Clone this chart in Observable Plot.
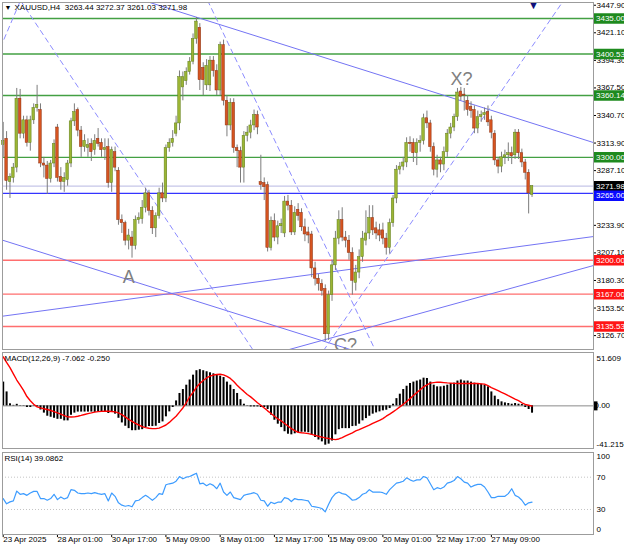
<!DOCTYPE html>
<html><head><meta charset="utf-8">
<script src="https://cdn.jsdelivr.net/npm/d3@7"></script>
<script src="https://cdn.jsdelivr.net/npm/@observablehq/plot@0.6"></script>
<style>
 html,body{margin:0;padding:0;background:#fff}
 #chart{position:relative;width:624px;height:544px;overflow:hidden;background:#fff}
 #chart > svg{position:absolute;left:0;display:block}
</style></head><body><div id="chart"></div>
<script>
// ---------- data (XAUUSD H4) ----------
const open = [3312,3318,3276,3280,3290,3357,3323,3336,3314,3336,
 3348,3346,3294,3292,3279,3294,3329,3281,3276,3278,
 3294,3335,3346,3326,3310,3309,3313,3307,3318,3314,
 3307,3310,3275,3305,3287,3239,3236,3219,3222,3214,
 3239,3240,3251,3265,3248,3231,3243,3265,3260,3309,
 3314,3323,3333,3368,3374,3383,3393,3415,3426,3387,
 3370,3370,3394,3384,3365,3409,3355,3331,3353,3309,
 3306,3290,3321,3324,3331,3341,3276,3275,3273,3212,
 3238,3222,3233,3226,3257,3253,3227,3249,3246,3232,
 3227,3225,3192,3182,3177,3172,3128,3166,3195,3221,
 3239,3222,3219,3207,3178,3188,3203,3219,3226,3241,
 3231,3229,3229,3221,3212,3236,3260,3288,3291,3295,
 3314,3314,3304,3314,3316,3338,3333,3310,3288,3297,
 3293,3305,3323,3329,3339,3364,3361,3355,3349,3346,
 3328,3339,3341,3344,3336,3323,3297,3291,3300,3302,
 3304,3302,3324,3304,3295,3285,3263.44];
const high = [3334,3325,3284,3294,3367,3366,3340,3340,3340,3352,
 3370,3352,3300,3296,3297,3317,3332,3290,3285,3297,
 3338,3352,3348,3330,3322,3318,3318,3322,3328,3318,
 3318,3318,3310,3310,3290,3244,3238,3230,3228,3243,
 3246,3258,3270,3268,3252,3246,3270,3275,3312,3318,
 3326,3340,3384,3383,3387,3397,3420,3436,3430,3392,
 3395,3398,3398,3390,3412,3414,3360,3357,3357,3312,
 3310,3325,3330,3336,3346,3345,3302,3280,3276,3242,
 3245,3238,3240,3262,3263,3258,3252,3255,3250,3240,
 3232,3228,3198,3186,3181,3176,3170,3200,3228,3248,
 3251,3228,3224,3212,3195,3210,3228,3248,3253,3253,
 3237,3235,3236,3226,3240,3263,3292,3295,3300,3319,
 3320,3318,3318,3321,3342,3345,3336,3314,3302,3300,
 3310,3327,3333,3342,3367,3368,3367,3360,3354,3350,
 3345,3345,3348,3350,3340,3326,3300,3305,3307,3314,
 3310,3327,3327,3308,3298,3288,3272.37];
const low = [3300,3268,3260,3275,3285,3318,3318,3310,3306,3332,
 3344,3290,3280,3264,3275,3290,3276,3268,3266,3272,
 3290,3330,3320,3300,3305,3300,3296,3302,3310,3300,
 3297,3270,3266,3286,3234,3226,3214,3210,3202,3210,
 3235,3235,3246,3243,3225,3222,3240,3256,3256,3305,
 3310,3320,3326,3355,3370,3380,3390,3410,3365,3360,
 3365,3364,3378,3360,3360,3350,3320,3326,3304,3290,
 3275,3275,3315,3318,3326,3322,3268,3258,3208,3209,
 3218,3215,3226,3222,3248,3224,3224,3238,3228,3218,
 3216,3183,3175,3170,3165,3121,3122,3160,3190,3215,
 3218,3212,3200,3166,3170,3182,3198,3214,3220,3224,
 3220,3218,3215,3205,3206,3232,3255,3283,3287,3290,
 3305,3295,3292,3305,3312,3328,3305,3282,3280,3285,
 3287,3300,3318,3325,3335,3355,3345,3340,3338,3323,
 3323,3334,3336,3330,3318,3292,3284,3285,3293,3296,
 3293,3298,3298,3290,3278,3245,3261.03];
const close = [3316,3277,3281,3290,3357,3323,3336,3314,3336,3348,
 3351,3294,3292,3279,3294,3313,3280,3276,3280,3294,
 3335,3344,3326,3310,3316,3312,3305,3316,3313,3307,
 3309,3275,3307,3290,3239,3236,3219,3224,3214,3239,
 3241,3251,3265,3248,3231,3243,3265,3260,3309,3314,
 3318,3333,3378,3378,3383,3393,3415,3432,3375,3375,
 3389,3394,3384,3365,3409,3355,3331,3353,3309,3306,
 3290,3321,3324,3331,3341,3329,3273,3271,3212,3238,
 3222,3233,3235,3257,3253,3227,3246,3243,3232,3225,
 3224,3192,3182,3177,3170,3128,3166,3195,3221,3239,
 3222,3219,3207,3180,3188,3203,3221,3226,3241,3229,
 3226,3224,3221,3212,3236,3260,3288,3291,3295,3314,
 3313,3304,3314,3316,3338,3333,3310,3288,3297,3293,
 3305,3323,3329,3339,3363,3359,3360,3346,3345,3328,
 3339,3341,3343,3334,3324,3297,3291,3300,3302,3304,
 3301,3324,3304,3295,3285,3265,3271.98];

const macdHist = [23,13.5,2,0.5,1.5,0.3,-0.3,-1.6,-1.6,-0.3,
 -1,-4,-7,-10,-11,-12,-13,-13,-14.5,-14.5,
 -9,-7,-6,-6,-6,-6,-6,-6.3,-6,-6.3,
 -6,-7.4,-6,-8,-12,-16.5,-19.7,-22,-24,-24,
 -23.5,-23,-21,-20,-20,-19.7,-17,-15.5,-10.6,-5.8,
 -1.6,4.8,12,15.8,20,25,29.7,34,35,34,
 33,32,31,29.7,28.7,27.4,23,20,15.8,12,
 6,1.6,-0.3,-1,-1,-1,-1.6,-1.6,-3.5,-9,
 -13.9,-17.7,-21,-25,-27.4,-28,-27,-26,-25.5,-25.5,
 -26,-28,-30.6,-33,-34.8,-38,-37,-34,-28,-23,
 -22,-22,-22,-20,-19.7,-17.7,-14.5,-12.3,-10,-8,
 -6.8,-5.8,-4.8,-4.2,-2.6,1.6,7,11.3,15.8,19,
 21.6,23,24,25,26.8,26.5,23,20,18.4,18.4,
 19,20,21.6,22,24,25,24,24,23,22,
 21.6,21,20,18.4,13.5,9.4,6,3.9,2.9,2.3,
 1.6,2.3,1.6,1.3,-1.6,-3.5,-7.062];
const macdSignal = [47.4,42,37,31,25,20,15,9,5,1.6,
 -1,-2,-2.8,-3.5,-4.5,-5.6,-6.8,-8,-9.5,-10.6,
 -10.8,-10.6,-10,-9.2,-8.3,-7.5,-6.8,-6,-5.6,-5.3,
 -5.2,-5.2,-5.4,-5.8,-6.8,-8.5,-10.6,-13,-15,-17,
 -18.5,-20,-21,-21.6,-22,-22,-21.5,-20,-18.5,-16,
 -13,-10,-6,-2,3,8.7,13,18,21.6,24.5,
 27,28.7,29.8,30.3,30.6,30,28.5,26.5,23.5,20,
 16.8,14,11,8.7,6,3,0.6,-2,-4.8,-7.4,
 -10,-12.5,-14.5,-17,-19.5,-22,-24,-25.5,-26,-26.4,
 -26.8,-27.6,-28.5,-29.4,-30.2,-31,-31.6,-32.2,-32.6,-32,
 -30.6,-29,-27.5,-26,-24.2,-23,-21.5,-20,-18.7,-17,
 -15.5,-14,-12.3,-10,-8,-5.8,-3.5,-1,1.5,4.3,
 7,10,12.8,15.6,18.4,20.2,22,22.5,23,22.8,
 22.5,22.2,22,21.8,21.6,21.6,21.6,21.6,21.6,21.6,
 21.6,21.3,21,19.5,17.7,16.2,14.7,13,11.5,9.8,
 8.2,6.5,5,3,1.5,0.6,-0.25];
const rsi = [43.5,37,39.4,40.6,52.8,48.8,49.6,47.5,50.4,52.4,
 52.4,43.5,43.5,41.4,43.5,48.8,42.2,45.5,43,44.7,
 54.5,53.7,50.4,49.6,49.6,50.4,49.6,50.8,49.6,48.8,
 49.6,40.6,50.4,46.3,38.2,35.3,34,34.9,33.3,40.6,
 41.4,44.7,47.5,44.7,41.4,44.7,49.6,48.8,60.6,61.8,
 62.6,65,70.8,68,70,70.8,72.8,74.9,61.8,62.6,
 59.4,61.8,59.8,55.7,62.6,51.6,47.5,51.6,44.7,43.5,
 42.2,47.5,48.8,49.6,50.8,48.8,41.4,40.6,34,39,
 37.3,39,39,44.7,43.5,39.8,43.5,42.2,42.2,41.4,
 40.6,34,33.3,32.4,31.2,27.1,36.5,44.7,49.6,51.6,
 49.6,48.8,45.5,41.4,42.2,44.7,48.8,50.4,54.5,51.6,
 51.6,51.6,50.8,48.8,54.5,58.6,62.6,63.5,65,69.2,
 66.7,65,66.7,66.7,70.8,69.2,61.8,54.5,57,55.7,
 57.8,62.6,63.9,65.9,70.8,68,63.9,62.6,57.8,59.8,
 61,61,57.8,51.6,44.7,44.7,46.3,46.3,46.3,49.6,
 55.7,47.5,45.5,41.4,35.3,38.2,39.0862];

const dateTicks  = [0,16,32,48,64,80,96,112,128,144];
const dateLabels = ["23 Apr 2025","28 Apr 01:00","30 Apr 17:00","5 May 09:00","8 May 01:00",
                    "12 May 17:00","15 May 09:00","20 May 01:00","22 May 17:00","27 May 09:00"];
const priceTicks = [3447.90,3421.10,3394.30,3367.50,3340.70,3313.90,3287.10,3260.30,3233.90,3207.10,3180.30,3153.50,3126.70];
const levelPrices = [3435.00,3400.53,3360.14,3300.00,3271.98,3265.00,3200.00,3167.00,3135.53];
const levelKinds  = ["res","res","res","res","bid","pivot","sup","sup","sup"];
const rsiLevels = [70, 30];
const rsiScaleLabels = [100, 70, 30, 0];
// trend lines: [bar index, price] end points
const solidLines = [
  [[41.4,3452.5],[174.1,3314.4]],
  [[-0.8,3220.1],[102.5,3113.0]],
  [[-0.8,3145.3],[174.1,3223.0]],
  [[83.3,3112.2],[174.1,3194.8]]
];
const dashedLines = [
  [[-0.8,3406.8],[5.1,3452.5]],
  [[5.1,3452.5],[73.8,3112.2]],
  [[60.3,3452.5],[109.8,3112.2]],
  [[94.5,3112.2],[165.3,3452.5]]
];
const waveNames = ["A","X?","C?"];
const waveBar   = [37,135.2,101];
const wavePrice = [3183,3376,3117];

// ---------- layout ----------
const FONT = "'Liberation Sans', Arial, sans-serif";
const X0 = 2.7, STEP = 3.39;
const X = {domain:[0,156], range:[X0, X0 + STEP*156], axis:null};
const toBar = px => (px - X0) / STEP;
const XR = toBar(593);
const baseStyle = {fontFamily: FONT, fontSize: "8px", background: "transparent", color: "#000", overflow: "visible"};
const levelStyle = {
  res:   {line:"#43a043", box:"#1e8a1e", dy:0},
  bid:   {line:"#c6c6e8", box:"#000000", dy:0},
  pivot: {line:"#3434ff", box:"#0a0aff", dy:2.5},
  sup:   {line:"#ff6e6e", box:"#ff1414", dy:0}
};

const bars = open.map((o,i)=>({i, o, h:high[i], l:low[i], c:close[i]}));
const bodyEnd = d => Math.abs(d.c - d.o) < 0.8 ? d.o + 0.8 : d.c;

const levelLines = levelPrices.map((p,k)=>Plot.ruleY([p], {stroke: levelStyle[levelKinds[k]].line, strokeWidth: 1.4}));
const boxMarks = [];
levelPrices.forEach((p,k)=>{
  const s = levelStyle[levelKinds[k]];
  boxMarks.push(Plot.ruleY([p], {x1: XR, x2: toBar(630), stroke: s.box, strokeWidth: 10.5, dy: s.dy}));
  boxMarks.push(Plot.text([p], {x: XR, y: d=>d, dx: 2.5, dy: s.dy, textAnchor: "start", text: d=>d.toFixed(2), fill: "#fff", fontSize: 8}));
});
const toRows = (lines) => lines.flatMap((pts,id)=>pts.map(([b,p])=>({id, b, p})));
const trendMarks = [
  Plot.line(toRows(solidLines), {x:"b", y:"p", z:"id", stroke:"#7474f4", strokeWidth:1, clip:true}),
  Plot.line(toRows(dashedLines), {x:"b", y:"p", z:"id", stroke:"#8c8cff", strokeWidth:1, strokeDasharray:"5,4", clip:true})
];

const main = Plot.plot({
  width: 624, height: 350,
  marginTop: 2, marginRight: 31, marginBottom: 1, marginLeft: 2,
  style: baseStyle,
  x: X,
  y: {domain:[3126.7, 3447.9], range:[335.1, 4.73], axis:null},
  marks: [
    ...levelLines,
    ...trendMarks,
    Plot.ruleX(bars, {x:"i", y1:"l", y2:"h", stroke:"#7c7c7c", strokeWidth:1}),
    Plot.rect(bars.filter(d=>d.c>=d.o), {x1:d=>d.i-0.38, x2:d=>d.i+0.38, y1:"o", y2:bodyEnd, fill:"#9cb534", stroke:"#62801c", strokeWidth:0.5}),
    Plot.rect(bars.filter(d=>d.c<d.o),  {x1:d=>d.i-0.38, x2:d=>d.i+0.38, y1:"o", y2:bodyEnd, fill:"#d65420", stroke:"#8e3212", strokeWidth:0.5}),
    Plot.text(waveNames, {x:(d,i)=>waveBar[i], y:(d,i)=>wavePrice[i], text:d=>d, fill:"#808080", fontSize:18, clip:true}),
    Plot.text(["▼"], {frameAnchor:"top-left", dx:2, dy:3, lineAnchor:"top", fontSize:7, fill:"#000"}),
    Plot.text(["XAUUSD,H4  3263.44 3272.37 3261.03 3271.98"], {frameAnchor:"top-left", dx:12, dy:2, lineAnchor:"top", fontSize:8, fill:"#000"}),
    Plot.text(["▼"], {x:()=>156.4, frameAnchor:"top", dy:-1, lineAnchor:"top", fontSize:11, fill:"#10107a"}),
    Plot.ruleY(priceTicks, {x1: XR, x2: toBar(596), stroke:"#000"}),
    Plot.text(priceTicks, {x: XR, y: d=>d, dx: 3, textAnchor:"start", text: d=>d.toFixed(2), fill:"#000", fontSize:8}),
    ...boxMarks,
    Plot.frame({stroke:"#9c9c9c"})
  ]
});

const macdRows = macdHist.map((v,i)=>({i, v, s: macdSignal[i]}));
const macd = Plot.plot({
  width: 624, height: 100,
  marginTop: 2, marginRight: 31, marginBottom: 2, marginLeft: 2,
  style: baseStyle,
  x: X,
  y: {domain:[-41.215, 51.609], range:[98, 2], axis:null},
  marks: [
    Plot.ruleY([0], {stroke:"#8a8a8a", strokeWidth:1}),
    Plot.ruleX(macdRows, {x:"i", y1:()=>0, y2:"v", stroke:"#000", strokeWidth:2}),
    Plot.line(macdRows, {x:"i", y:"s", stroke:"#ff0000", strokeWidth:1.4}),
    Plot.text(["MACD(12,26,9) -7.062 -0.250"], {frameAnchor:"top-left", dx:2, dy:3, lineAnchor:"top", fontSize:8, fill:"#000"}),
    Plot.text([51.609], {x: XR, y: d=>d, dx: 3, dy: 5.7, textAnchor:"start", text: d=>d.toFixed(3), fill:"#000", fontSize:8}),
    Plot.text([0], {x: XR, y: d=>d, dx: 1, textAnchor:"start", text: d=>d.toFixed(2), fill:"#000", fontSize:8}),
    Plot.ruleY([0], {x1: XR, x2: toBar(597.5), stroke:"#000", strokeWidth:9}),
    Plot.text([-41.215], {x: XR, y: d=>d, dx: 3, dy: -4, textAnchor:"start", text: d=>d.toFixed(3), fill:"#000", fontSize:8}),
    Plot.frame({stroke:"#9c9c9c"})
  ]
});

const rsiRows = rsi.map((v,i)=>({i, v}));
// end labels nudged inside the panel, as MT4 does
const rsiLabelY = v => v === 100 ? 95.6 : v === 0 ? 5 : v;
const rsiChart = Plot.plot({
  width: 624, height: 94,
  marginTop: 2, marginRight: 31, marginBottom: 10, marginLeft: 2,
  style: baseStyle,
  x: X,
  y: {domain:[0, 100], range:[83.2, 2.45], axis:null},
  marks: [
    Plot.ruleY(rsiLevels, {stroke:"#c4c4c4", strokeDasharray:"1,2"}),
    Plot.line(rsiRows, {x:"i", y:"v", stroke:"#3d9cff", strokeWidth:1.2}),
    Plot.text(["RSI(14) 39.0862"], {frameAnchor:"top-left", dx:2, dy:3, lineAnchor:"top", fontSize:8, fill:"#000"}),
    Plot.text(rsiScaleLabels, {x: XR, y: rsiLabelY, dx: 3, textAnchor:"start", text: d=>String(d), fill:"#000", fontSize:8}),
    Plot.ruleX(dateTicks, {x: d=>d, y1: ()=>-1, y2: ()=>-4.8, stroke:"#000"}),
    Plot.text(dateTicks, {x: d=>d, frameAnchor:"bottom", dy: 2, lineAnchor:"top", textAnchor:"start", text:(d,i)=>dateLabels[i], fill:"#000", fontSize:8}),
    Plot.frame({stroke:"#9c9c9c"})
  ]
});

const root = document.getElementById("chart");
[[main,0],[macd,350],[rsiChart,450]].forEach(([el,top])=>{
  el.style.position = "absolute";
  el.style.top = top + "px";
  el.style.left = "0px";
  root.appendChild(el);
});
</script>
</body></html>
